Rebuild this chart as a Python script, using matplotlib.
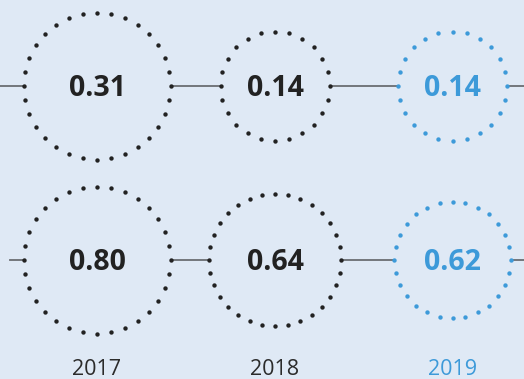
import numpy as np
import matplotlib.pyplot as plt

# values shown in the two rows of bubbles
years = ["2017", "2018", "2019"]
row_top = [0.31, 0.14, 0.14]
row_bottom = [0.80, 0.64, 0.62]

# layout (pixel units of the canvas)
W, H = 524, 379
col_x = [97, 275, 452.5]
row_y = [86, 260]
radii = [[73.5, 54.5, 54.5], [73.5, 66, 58.2]]
n_dots = [[32, 24, 24], [32, 32, 28]]
line_start = [0, 10]

bg = "#dfe9f5"
dark = "#222222"
blue = "#3d9ad9"
line_col = "#6a6d72"

fig = plt.figure(figsize=(W / 100, H / 100), dpi=100, facecolor=bg)
ax = fig.add_axes([0, 0, 1, 1])
ax.set_facecolor(bg)
ax.set_xlim(0, W)
ax.set_ylim(H, 0)
ax.axis("off")

font = ["Open Sans", "DejaVu Sans"]

for r, values in enumerate([row_top, row_bottom]):
    y = row_y[r]
    # connecting line, broken by the circles
    x0 = line_start[r]
    for c in range(len(values)):
        left = col_x[c] - radii[r][c]
        ax.plot([x0, left], [y, y], color=line_col, lw=1.3, zorder=1)
        x0 = col_x[c] + radii[r][c]
    ax.plot([x0, W], [y, y], color=line_col, lw=1.3, zorder=1)

    for c, v in enumerate(values):
        col = blue if c == len(values) - 1 else dark
        t = np.linspace(0, 2 * np.pi, n_dots[r][c], endpoint=False)
        ax.scatter(col_x[c] + radii[r][c] * np.cos(t),
                   y + radii[r][c] * np.sin(t),
                   s=10, color=col, linewidths=0, zorder=2)
        ax.text(col_x[c], y + 10.5, f"{v:.2f}", ha="center", va="baseline",
                fontsize=20.5, fontweight="bold", color=col, family=font)

for c, yr in enumerate(years):
    col = blue if c == len(years) - 1 else "#2b2b2b"
    ax.text(col_x[c], 375, yr, ha="center", va="baseline",
            fontsize=15.5, color=col, family=font)

fig.savefig("out.png", dpi=100, facecolor=bg)
